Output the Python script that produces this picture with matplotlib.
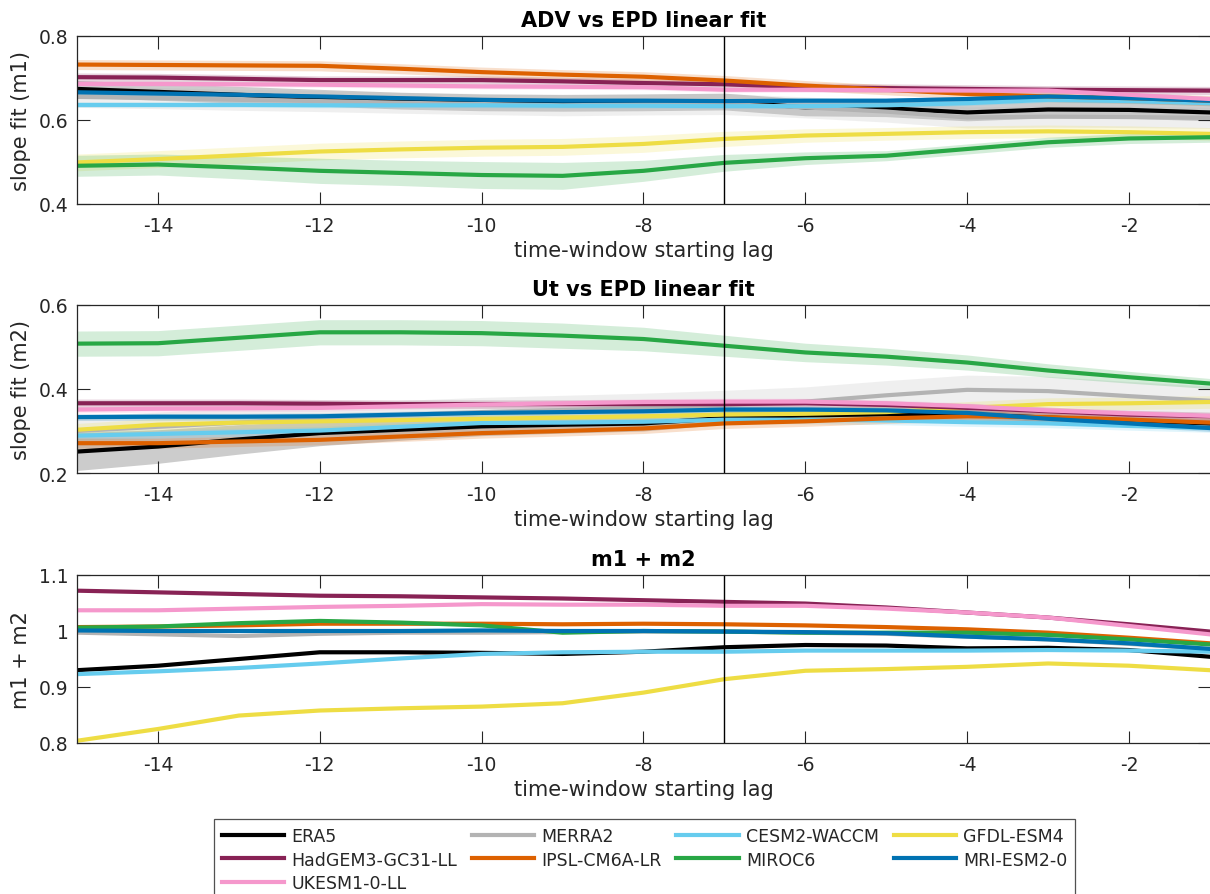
import numpy as np
import matplotlib
matplotlib.use("Agg")
import matplotlib.pyplot as plt

# time-window starting lag
lags = [-15, -14, -13, -12, -11, -10, -9, -8, -7, -6, -5, -4, -3, -2, -1]

models = ["ERA5", "MERRA2", "CESM2-WACCM", "GFDL-ESM4", "HadGEM3-GC31-LL",
          "IPSL-CM6A-LR", "MIROC6", "MRI-ESM2-0", "UKESM1-0-LL"]

# slope fit m1 (ADV vs EPD)
era5_m1 = [.674, .667, .660, .653, .646, .642, .641, .642, .644, .630, .628, .618, .625, .624, .618]
merra2_m1 = [.655, .652, .648, .645, .641, .638, .635, .637, .638, .630, .620, .606, .608, .607, .605]
cesm2_m1 = [.636, .636, .636, .635, .635, .635, .634, .634, .633, .633, .635, .640, .648, .645, .640]
gfdl_m1 = [.499, .507, .516, .525, .530, .534, .536, .543, .555, .563, .567, .571, .573, .571, .567]
hadgem_m1 = [.702, .701, .698, .695, .695, .695, .692, .688, .685, .678, .676, .674, .672, .671, .670]
ipsl_m1 = [.732, .731, .730, .729, .722, .714, .708, .703, .694, .682, .672, .662, .656, .652, .646]
miroc_m1 = [.491, .494, .487, .479, .474, .469, .467, .479, .498, .509, .515, .531, .547, .556, .559]
mri_m1 = [.666, .663, .660, .656, .652, .648, .646, .646, .645, .646, .646, .650, .656, .652, .646]
ukesm_m1 = [.686, .686, .685, .684, .682, .680, .679, .678, .672, .672, .671, .670, .670, .660, .650]

# half-width of shaded range for m1
era5_m1_err = [.02] * 15
merra2_m1_err = [.025] * 15
cesm2_m1_err = [.006] * 15
gfdl_m1_err = [.02, .02, .02, .02, .02, .02, .02, .02, .018, .016, .015, .015, .015, .015, .015]
hadgem_m1_err = [.01] * 15
ipsl_m1_err = [.012] * 15
miroc_m1_err = [.025, .025, .027, .03, .03, .032, .032, .025, .02, .015, .012, .012, .012, .012, .012]
mri_m1_err = [.006] * 15
ukesm_m1_err = [.006] * 15

# slope fit m2 (Ut vs EPD)
era5_m2 = [.251, .263, .280, .295, .303, .311, .315, .318, .331, .337, .340, .339, .332, .325, .318]
merra2_m2 = [.300, .310, .320, .330, .338, .345, .350, .355, .362, .370, .385, .398, .395, .383, .372]
cesm2_m2 = [.289, .293, .297, .301, .310, .319, .320, .322, .327, .327, .325, .321, .318, .312, .307]
gfdl_m2 = [.303, .315, .320, .323, .326, .329, .332, .335, .339, .341, .345, .355, .364, .366, .369]
hadgem_m2 = [.366, .366, .366, .365, .364, .364, .364, .364, .364, .366, .362, .355, .347, .339, .335]
ipsl_m2 = [.271, .271, .275, .279, .287, .295, .300, .306, .318, .323, .330, .335, .333, .327, .320]
miroc_m2 = [.508, .509, .522, .535, .535, .533, .527, .519, .503, .487, .477, .463, .444, .428, .413]
mri_m2 = [.333, .334, .334, .335, .339, .343, .345, .347, .351, .351, .349, .343, .329, .318, .307]
ukesm_m2 = [.351, .353, .354, .355, .359, .363, .366, .369, .370, .370, .366, .359, .349, .342, .336]

era5_m2_err = [.045, .04, .035, .03, .025, .022, .02, .018, .015, .013, .012, .012, .012, .012, .012]
merra2_m2_err = [.035] * 15
cesm2_m2_err = [.01] * 15
gfdl_m2_err = [.015] * 15
hadgem_m2_err = [.01] * 15
ipsl_m2_err = [.012] * 15
miroc_m2_err = [.03, .03, .03, .03, .03, .03, .03, .028, .025, .022, .02, .018, .016, .014, .012]
mri_m2_err = [.008] * 15
ukesm_m2_err = [.008] * 15

# m1 + m2
era5_sum = [.930, .938, .950, .962, .962, .961, .959, .963, .971, .975, .974, .969, .970, .966, .954]
merra2_sum = [.997, .994, .991, .995, .997, .997, .998, .999, .999, .997, .995, .990, .985, .977, .968]
cesm2_sum = [.923, .928, .934, .942, .951, .959, .962, .963, .963, .965, .965, .965, .966, .965, .963]
gfdl_sum = [.804, .825, .849, .858, .862, .865, .871, .890, .914, .929, .932, .936, .942, .938, .930]
hadgem_sum = [1.072, 1.069, 1.066, 1.063, 1.062, 1.060, 1.058, 1.055, 1.052, 1.049, 1.042, 1.033, 1.024, 1.012, .999]
ipsl_sum = [1.007, 1.008, 1.010, 1.013, 1.013, 1.013, 1.012, 1.013, 1.012, 1.010, 1.007, 1.003, .997, .988, .978]
miroc_sum = [1.006, 1.008, 1.014, 1.018, 1.015, 1.010, .997, 1.000, .999, .997, .997, .997, .993, .985, .976]
mri_sum = [1.001, 1.000, 1.000, 1.000, 1.000, 1.001, 1.000, 1.000, .999, .998, .996, .990, .985, .978, .968]
ukesm_sum = [1.037, 1.037, 1.040, 1.043, 1.045, 1.048, 1.047, 1.047, 1.045, 1.045, 1.040, 1.033, 1.024, 1.009, .994]

colors = ["#000000", "#b3b3b3", "#66ccee", "#eedd44", "#882255",
          "#dd6100", "#28a745", "#0072b2", "#f598cc"]

m1_all = [era5_m1, merra2_m1, cesm2_m1, gfdl_m1, hadgem_m1, ipsl_m1, miroc_m1, mri_m1, ukesm_m1]
m1_err = [era5_m1_err, merra2_m1_err, cesm2_m1_err, gfdl_m1_err, hadgem_m1_err,
          ipsl_m1_err, miroc_m1_err, mri_m1_err, ukesm_m1_err]
m2_all = [era5_m2, merra2_m2, cesm2_m2, gfdl_m2, hadgem_m2, ipsl_m2, miroc_m2, mri_m2, ukesm_m2]
m2_err = [era5_m2_err, merra2_m2_err, cesm2_m2_err, gfdl_m2_err, hadgem_m2_err,
          ipsl_m2_err, miroc_m2_err, mri_m2_err, ukesm_m2_err]
sum_all = [era5_sum, merra2_sum, cesm2_sum, gfdl_sum, hadgem_sum, ipsl_sum, miroc_sum, mri_sum, ukesm_sum]

TXT = "#262626"
plt.rcParams["font.family"] = ["DejaVu Sans"]
plt.rcParams["axes.unicode_minus"] = False
plt.rcParams["axes.edgecolor"] = TXT
plt.rcParams["xtick.color"] = TXT
plt.rcParams["ytick.color"] = TXT

fig = plt.figure(figsize=(12.1, 8.95), dpi=100)

L, W = 77 / 1210, 1 - 77 / 1210


def box(top_px, bot_px):
    return [L, 1 - bot_px / 895, W, (bot_px - top_px) / 895]


def style_axes(ax, title, ylabel, ylim, yticks):
    ax.set_xlim(-15, -1)
    ax.set_ylim(*ylim)
    ax.set_yticks(yticks)
    ax.set_yticklabels([f"{t:g}" for t in yticks])
    ax.set_xticks([-14, -12, -10, -8, -6, -4, -2])
    ax.tick_params(direction="in", length=9, width=0.8, top=True, right=True,
                   labelsize=13.5, labelcolor=TXT)
    ax.tick_params(axis="x", pad=9)
    ax.tick_params(axis="y", pad=6)
    ax.axvline(-7, color="k", lw=1)
    ax.set_title(title, fontsize=15, fontweight="bold", pad=7)
    ax.set_xlabel("time-window starting lag", fontsize=15, color=TXT, labelpad=3)
    ax.set_ylabel(ylabel, fontsize=15, color=TXT, labelpad=6)
    for s in ax.spines.values():
        s.set_linewidth(0.9)
    ax.spines["right"].set_visible(False)


def draw(ax, series, errs=None):
    x = np.array(lags)
    if errs is not None:
        for vals, err, c in zip(series, errs, colors):
            v = np.array(vals)
            e = np.array(err)
            ax.fill_between(x, v - e, v + e, color=c, alpha=0.2, lw=0)
    lines = []
    for vals, c, name in zip(series, colors, models):
        ln, = ax.plot(x, vals, color=c, lw=3, label=name)
        lines.append(ln)
    return lines


ax1 = fig.add_axes(box(37, 205))
draw(ax1, m1_all, m1_err)
style_axes(ax1, "ADV vs EPD linear fit", "slope fit (m1)", (0.4, 0.8), [0.4, 0.6, 0.8])

ax2 = fig.add_axes(box(306, 474))
draw(ax2, m2_all, m2_err)
style_axes(ax2, "Ut vs EPD linear fit", "slope fit (m2)", (0.2, 0.6), [0.2, 0.4, 0.6])

ax3 = fig.add_axes(box(576, 744))
lines = draw(ax3, sum_all)
style_axes(ax3, "m1 + m2", "m1 + m2", (0.8, 1.1), [0.8, 0.9, 1.0, 1.1])

# matplotlib fills legend columns first; reorder so rows read as in the original
order = [0, 4, 8, 1, 5, 2, 6, 3, 7]
leg = fig.legend([lines[i] for i in order], [models[i] for i in order],
                 loc="upper left", bbox_to_anchor=(214 / 1210, 1 - 820 / 895),
                 ncol=4, fontsize=12.5, frameon=True, fancybox=False,
                 edgecolor=TXT, handlelength=3.6, handletextpad=0.4,
                 columnspacing=0.85, labelspacing=0.33, borderpad=0.45,
                 borderaxespad=0)
leg.get_frame().set_linewidth(0.9)
for t in leg.get_texts():
    t.set_color(TXT)

fig.savefig("out.png", dpi=100)
